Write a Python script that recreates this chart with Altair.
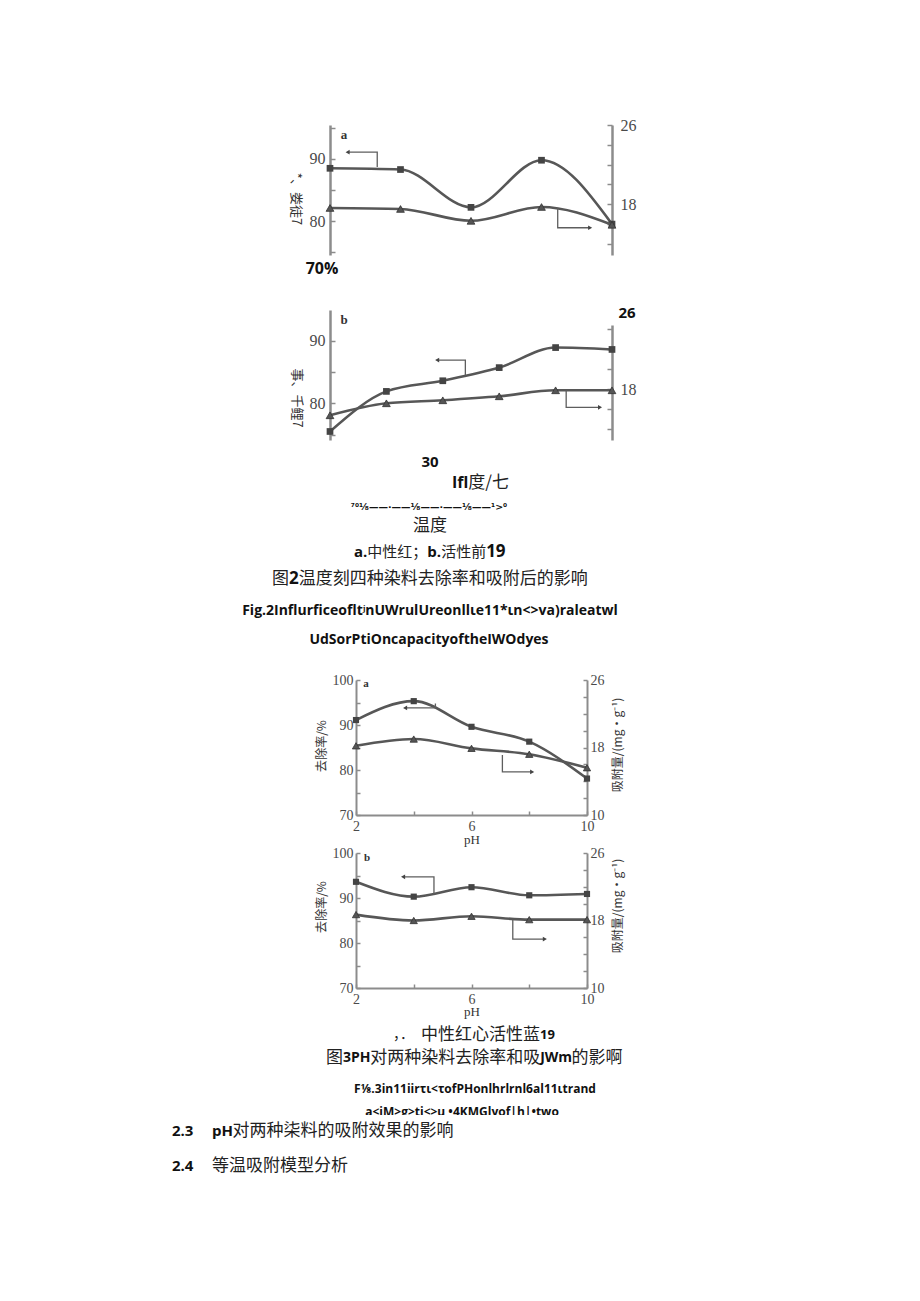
import altair as alt
import pandas as pd

W, H = 920, 1301

# ---------------- data ----------------
# Figure 2 : effect of temperature (a = neutral red, b = reactive dye)
fig2a_temp = [20, 30, 40, 50, 60]
fig2a_removal = [88.5, 88.3, 82.2, 89.8, 79.5]      # left axis (%)
fig2a_adsorb = [17.6, 17.5, 16.3, 17.7, 15.9]       # right axis (mg/g)
fig2b_temp = [20, 28, 36, 44, 52, 60]
fig2b_removal = [75.5, 81.9, 83.6, 85.7, 88.9, 88.6]
fig2b_adsorb = [15.4, 16.6, 16.9, 17.3, 17.9, 17.9]

# Figure 3 : effect of pH
ph = [2, 4, 6, 8, 10]
fig3a_removal = [91.1, 95.3, 89.6, 86.3, 78.1]
fig3a_adsorb = [18.2, 19.0, 17.9, 17.2, 15.6]
fig3b_removal = [93.6, 90.3, 92.4, 90.6, 90.9]
fig3b_adsorb = [18.7, 18.0, 18.5, 18.1, 18.1]

# axis labels and ticks
fig2_left_labels = [80, 90]
fig2_left_ticks = [75, 80, 85, 90, 95]
fig2a_right_labels = [18, 26]
fig2b_right_labels = [18]
fig2a_right_ticks = [14, 16, 18, 20, 22, 24, 26]
fig2b_right_ticks = [14, 16, 18, 20, 22, 24]
fig3_left_labels = [70, 80, 90, 100]
fig3_left_ticks = [70, 75, 80, 85, 90, 95, 100]
fig3_right_labels = [10, 18, 26]
fig3_right_ticks = [10, 12, 14, 16, 18, 20, 22, 24, 26]
fig3_x_labels = [2, 6, 10]
fig3_x_ticks = [2, 4, 6, 8, 10]

# arrow guides, in data units (x list, y list); upper -> left axis, lower -> right axis
fig2a_arrow_up = ([26.7, 26.7, 22.5], [88.7, 91.1, 91.1])
fig2a_arrow_lo = ([52.3, 52.3, 56.9], [17.6, 15.6, 15.6])
fig2b_arrow_up = ([39.2, 39.2, 35.2], [84.5, 86.9, 86.9])
fig2b_arrow_lo = ([53.5, 53.5, 58.3], [17.9, 16.2, 16.2])
fig3a_arrow_up = ([4.75, 4.75, 3.7], [94.8, 93.8, 93.8])
fig3a_arrow_lo = ([7.07, 7.07, 8.1], [17.1, 15.1, 15.1])
fig3b_arrow_up = ([4.7, 4.7, 3.63], [90.9, 94.7, 94.7])
fig3b_arrow_lo = ([7.43, 7.43, 8.54], [18.1, 15.8, 15.8])

# texts
fig2_ylabel_a = "*、娄徒7"
fig2_ylabel_b = "事、千鲤7"
fig3_ylabel_left = "去除率/%"
fig3_ylabel_right = "吸附量/(mg·g⁻¹)"
cap2_sub = [("a.", "b", 15), ("中性红", "c", 15), ("；", "c", 15), ("b.", "b", 15), ("活性前", "c", 15), ("19", "b", 17)]
cap2_title = [("图", "c", 17), ("2", "b", 17), ("温度刻四种染料去除率和吸附后的影响", "c", 17)]
cap2_en1 = "Fig.2Influrficeoflt\u02b2nUWrulUreonll\u03b9e11*\u03b9n<>va)raleatwl"
cap2_en2 = "UdSorPtiOncapacityoftheIWOdyes"
cap3_sub = [("，．", "c", 14), ("中性红心活性蓝", "c", 17), ("19", "b", 13)]
cap3_title = [("图", "c", 17), ("3PH", "b", 14), ("对两种染料去除率和吸", "c", 17), ("JWm", "b", 14), ("的影啊", "c", 17)]
cap3_en1 = "F\u215b.3in11iir\u03c4\u03b9<\u03c4ofPHonlhrlrnl6al11\u03b9trand"
cap3_en2 = "a<iM>g>ti<>u   \u20224KMGlyof|h|\u2022two"
sec23 = [("pH", "b", 15), ("对两种柒料的吸附效果的影响", "c", 17)]
sec24 = [("等温吸附模型分析", "c", 17)]
frac_line = "\u2077\u2070\u00b9\u2044\u2088\u2014\u2014\u00b7\u2014\u2014\u00b9\u2044\u2088\u2014\u2014\u00b7\u2014\u2014\u00b9\u2044\u2088\u2014\u2014\u00b9>\u2070"

# ---------------- style ----------------
LINE = "#575757"
AXC = "#8c8c8c"
LABC = "#4a4a4a"
SERIF = "Liberation Serif"
CJK = "Noto Sans CJK SC"
BOLDF = "Open Sans"
NARROW = "Liberation Sans Narrow, Open Sans"

layers = []


def panel(p):
    xs = alt.Scale(domain=p["xdom"], range=p["xrng"], nice=False, zero=False)
    yl = alt.Scale(domain=p["ldom"], range=p["lrng"], nice=False, zero=False)
    yr = alt.Scale(domain=p["rdom"], range=p["rrng"], nice=False, zero=False)
    x0, x1 = p["xrng"]
    ybot = p["lrng"][0]
    lab = dict(title=None, grid=False, ticks=False, tickSize=0, labelFlush=False,
               labelOverlap=False, labelFont=SERIF, labelFontSize=p["lfs"],
               labelColor=LABC, domainColor=AXC, domainWidth=p["dw"])
    tk = dict(title=None, grid=False, labels=False, domain=False, ticks=True,
              tickSize=p["ts"], tickColor=AXC, tickWidth=1.5)
    up = pd.DataFrame({"x": p["x"], "v": p["up"]})
    lo = pd.DataFrame({"x": p["x"], "v": p["lo"]})
    if "xlabels" in p:
        xax_lab = alt.Axis(orient="bottom", offset=ybot - H, values=p["xlabels"], labelPadding=4, **lab)
        xax_tk = alt.Axis(orient="top", offset=-ybot, values=p["xticks"], **tk)
    else:
        xax_lab = None
        xax_tk = None
    # upper series (left axis)
    layers.append(alt.Chart(up).mark_line(interpolate="monotone", color=LINE, strokeWidth=2.6).encode(
        x=alt.X("x:Q", scale=xs, axis=xax_lab),
        y=alt.Y("v:Q", scale=yl, axis=alt.Axis(orient="left", offset=-x0, values=p["llabels"],
                                               labelPadding=p["lpad"], **lab))))
    layers.append(alt.Chart(up).mark_point(shape="square", filled=True, size=p["ms"], color="#444", opacity=1).encode(
        x=alt.X("x:Q", scale=xs, axis=xax_tk),
        y=alt.Y("v:Q", scale=yl, axis=alt.Axis(orient="right", offset=x0 - W, values=p["lticks"], **tk))))
    # lower series (right axis)
    layers.append(alt.Chart(lo).mark_line(interpolate="monotone", color=LINE, strokeWidth=2.6).encode(
        x=alt.X("x:Q", scale=xs, axis=None),
        y=alt.Y("v:Q", scale=yr, axis=alt.Axis(orient="right", offset=x1 - W, values=p["rlabels"],
                                               labelPadding=p["rpad"], **lab))))
    layers.append(alt.Chart(lo).mark_point(shape="triangle-up", filled=True, size=p["ms"] + 15, color="#555",
                                          stroke="#333", strokeWidth=0.8, opacity=1).encode(
        x=alt.X("x:Q", scale=xs, axis=None),
        y=alt.Y("v:Q", scale=yr, axis=alt.Axis(orient="left", offset=-x1, values=p["rticks"], **tk))))
    # arrow guides
    for (ax, ay), sc, head in ((p["aup"], yl, "triangle-left"), (p["alo"], yr, "triangle-right")):
        adf = pd.DataFrame({"x": ax, "v": ay, "i": list(range(len(ax)))})
        layers.append(alt.Chart(adf).mark_line(color="#5e5e5e", strokeWidth=1.3).encode(
            x=alt.X("x:Q", scale=xs, axis=None), y=alt.Y("v:Q", scale=sc, axis=None), order="i:Q"))
        layers.append(alt.Chart(adf.tail(1)).mark_point(shape=head, filled=True, size=22, color="#444", opacity=1).encode(
            x=alt.X("x:Q", scale=xs, axis=None), y=alt.Y("v:Q", scale=sc, axis=None)))


panel(dict(x=fig2a_temp, up=fig2a_removal, lo=fig2a_adsorb,
           xdom=[20, 60], xrng=[330, 612], ldom=[74.52, 95.48], lrng=[255, 125],
           rdom=[12.84, 26], rrng=[255, 125], llabels=fig2_left_labels, lticks=fig2_left_ticks,
           rlabels=fig2a_right_labels, rticks=fig2a_right_ticks, lfs=16, dw=2.5, ts=5,
           lpad=5, rpad=8, ms=45, aup=fig2a_arrow_up, alo=fig2a_arrow_lo))
panel(dict(x=fig2b_temp, up=fig2b_removal, lo=fig2b_adsorb,
           xdom=[20, 60], xrng=[330, 612], ldom=[74.14, 94.9], lrng=[440, 310],
           rdom=[12.93, 24.43], rrng=[440, 325], llabels=fig2_left_labels, lticks=fig2_left_ticks,
           rlabels=fig2b_right_labels, rticks=fig2b_right_ticks, lfs=16, dw=2.5, ts=5,
           lpad=5, rpad=8, ms=45, aup=fig2b_arrow_up, alo=fig2b_arrow_lo))
panel(dict(x=ph, up=fig3a_removal, lo=fig3a_adsorb,
           xdom=[2, 10], xrng=[356, 587], ldom=[70, 100], lrng=[815, 680],
           rdom=[10, 26], rrng=[815, 680], llabels=fig3_left_labels, lticks=fig3_left_ticks,
           rlabels=fig3_right_labels, rticks=fig3_right_ticks, xlabels=fig3_x_labels, xticks=fig3_x_ticks,
           lfs=14, dw=2, ts=4, lpad=3, rpad=3, ms=38, aup=fig3a_arrow_up, alo=fig3a_arrow_lo))
panel(dict(x=ph, up=fig3b_removal, lo=fig3b_adsorb,
           xdom=[2, 10], xrng=[356, 587], ldom=[70, 100], lrng=[988, 853],
           rdom=[10, 26], rrng=[988, 853], llabels=fig3_left_labels, lticks=fig3_left_ticks,
           rlabels=fig3_right_labels, rticks=fig3_right_ticks, xlabels=fig3_x_labels, xticks=fig3_x_ticks,
           lfs=14, dw=2, ts=4, lpad=3, rpad=3, ms=38, aup=fig3b_arrow_up, alo=fig3b_arrow_lo))


def text(t, x, y, size, font=CJK, weight="normal", align="center", angle=0, color="#1a1a1a"):
    kw = dict(fontSize=size, font=font, fontWeight=weight, align=align, baseline="middle", color=color)
    if angle:
        kw["angle"] = angle
    layers.append(alt.Chart(pd.DataFrame({"t": [t]})).mark_text(**kw).encode(
        x=alt.value(x), y=alt.value(y), text="t:N"))


BOLD_W = {"0": .572, "1": .572, "2": .572, "3": .572, "4": .572, "5": .572, "6": .572, "7": .572,
          "8": .572, "9": .572, ".": .29, "a": .6, "b": .63, "P": .63, "H": .74, "J": .33,
          "W": .97, "m": .93, "p": .63, "I": .34, "f": .38, "l": .3}


def est_width(s, kind, size):
    w = 0.0
    for ch in s:
        if ord(ch) > 0x2E80:
            w += 1.0
        elif kind == "b":
            w += BOLD_W.get(ch, 0.6)
        elif ch == "/":
            w += 0.4
        else:
            w += 0.55
    return w * size


def seg_line(segs, x, y):
    for s, kind, size in segs:
        if kind == "b":
            text(s, x, y, size, font=BOLDF, weight="bold", align="left", color="#111")
        else:
            text(s, x, y, size, font=CJK, align="left", color="#222")
        x += est_width(s, kind, size)


# ---- figure 2 annotations ----
text("a", 344, 135, 13, font=SERIF, weight="bold", color="#333")
text("b", 344, 320, 13, font=SERIF, weight="bold", color="#333")
text(fig2_ylabel_a, 296, 199, 13, angle=90, color="#333")
text(fig2_ylabel_b, 297, 398, 13, angle=90, color="#333")
text("70%", 322, 269, 16, font=BOLDF, weight="bold", color="#111")
text("26", 627, 313, 15, font=BOLDF, weight="bold", color="#111")
text("30", 430, 462, 15, font=BOLDF, weight="bold", color="#111")
seg_line([("Ifl", "b", 16), ("度/七", "c", 17)], 452, 483)
text(frac_line, 429, 507, 9.5, font="DejaVu Sans", weight="bold", color="#111")
text("温度", 430, 526, 17, color="#222")
seg_line(cap2_sub, 354, 552)
seg_line(cap2_title, 272, 579)
text(cap2_en1, 430, 611, 14, font=NARROW, weight="bold", color="#111")
text(cap2_en2, 429, 640, 14, font=NARROW, weight="bold", color="#111")

# ---- figure 3 annotations ----
text("a", 366, 684, 11, font=SERIF, weight="bold", color="#333")
text("b", 367, 858, 11, font=SERIF, weight="bold", color="#333")
text("pH", 472, 840, 13, font=SERIF, color="#333")
text("pH", 472, 1012, 13, font=SERIF, color="#333")
text(fig3_ylabel_left, 322, 746, 12, angle=270, color="#333")
text(fig3_ylabel_left, 322, 907, 12, angle=270, color="#333")
text(fig3_ylabel_right, 618, 745, 12, angle=270, color="#333")
text(fig3_ylabel_right, 618, 906, 12, angle=270, color="#333")
seg_line(cap3_sub, 393, 1035)
seg_line(cap3_title, 326, 1058)
text(cap3_en1, 475, 1089, 12, font=NARROW, weight="bold", color="#111")
text(cap3_en2, 462, 1112, 12, font=NARROW, weight="bold", color="#111")
layers.append(alt.Chart(pd.DataFrame({"k": [0]})).mark_rect(color="white").encode(
    x=alt.value(330), x2=alt.value(620), y=alt.value(1115), y2=alt.value(1124)))

# ---- section headings ----
text("2.3", 172, 1131, 15, font=BOLDF, weight="bold", align="left", color="#111")
seg_line(sec23, 212, 1131)
text("2.4", 172, 1166, 15, font=BOLDF, weight="bold", align="left", color="#111")
seg_line(sec24, 212, 1166)

chart = alt.layer(*layers).resolve_scale(x="independent", y="independent").properties(
    width=W, height=H, autosize=alt.AutoSizeParams(type="none"), padding=0, background="white"
).configure_view(stroke=None)

chart.save("out.html", embed_options={"renderer": "svg", "actions": False})
